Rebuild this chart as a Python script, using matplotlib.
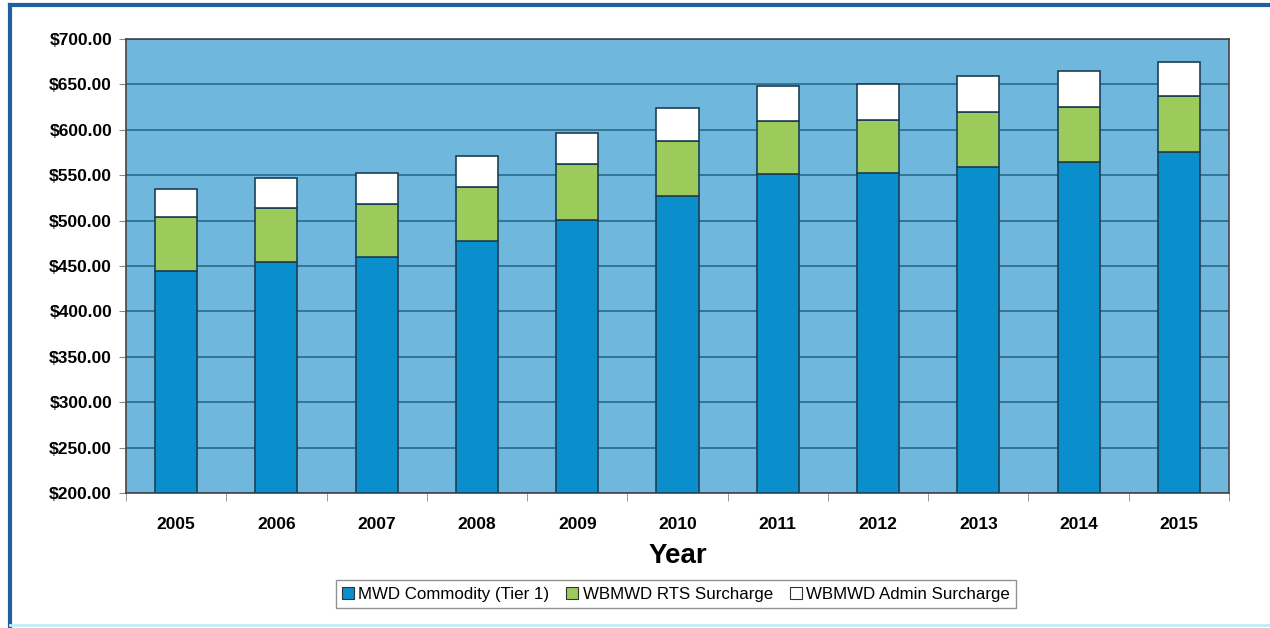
import matplotlib
matplotlib.use("Agg")
import matplotlib.pyplot as plt
from matplotlib.patches import Rectangle
from matplotlib.lines import Line2D
import numpy as np

plt.rcParams['font.family'] = ['Liberation Sans', 'DejaVu Sans']

years = ['2005', '2006', '2007', '2008', '2009', '2010',
         '2011', '2012', '2013', '2014', '2015']
# stacked totals ($ per acre-foot) at each layer boundary
mwd_commodity = [444, 454, 460, 477, 501, 527, 551, 552, 559, 565, 576]
rts_top = [504, 514, 518, 537, 562, 588, 610, 611, 620, 625, 637]
admin_top = [535, 547, 552, 571, 596, 624, 648, 650, 659, 665, 675]

rts_surcharge = [r - m for r, m in zip(rts_top, mwd_commodity)]
admin_surcharge = [a - r for a, r in zip(admin_top, rts_top)]

series_names = ['MWD Commodity (Tier 1)', 'WBMWD RTS Surcharge',
                'WBMWD Admin Surcharge']
colors = ['#0a8fcc', '#9ccb5c', '#ffffff']

fig = plt.figure(figsize=(12.7, 6.28), dpi=100)
ax = fig.add_axes([126 / 1270, 1 - 493 / 628, (1229 - 126) / 1270, (493 - 39) / 628])
ax.set_facecolor('#70b7de')

x = np.arange(len(years))
width = 0.42
base = 200
ax.bar(x, np.array(mwd_commodity) - base, width, bottom=base,
       color=colors[0], edgecolor='#1b3f55', linewidth=1.2, zorder=3)
ax.bar(x, rts_surcharge, width, bottom=mwd_commodity,
       color=colors[1], edgecolor='#1b3f55', linewidth=1.2, zorder=3)
ax.bar(x, admin_surcharge, width, bottom=rts_top,
       color=colors[2], edgecolor='#1b3f55', linewidth=1.2, zorder=3)

ax.set_ylim(200, 700)
ax.set_xlim(-0.5, len(years) - 0.5)
yt = np.arange(200, 701, 50)
ax.set_yticks(yt)
ax.set_yticklabels([f'${v:.2f}' for v in yt], fontsize=12.5, fontweight='bold')
ax.yaxis.grid(True, color='#2f6e8e', linewidth=1.3, zorder=1)
ax.set_axisbelow(True)

ax.set_xticks(x)
ax.set_xticklabels(years, fontsize=12.5, fontweight='bold')
ax.tick_params(axis='x', length=0, pad=17)
ax.set_xticks(np.arange(-0.5, len(years), 1), minor=True)
ax.tick_params(axis='x', which='minor', length=6, color='#888888', direction='out')
ax.tick_params(axis='y', length=5, color='#888888', direction='out', pad=5)

for side in ['top', 'right', 'left', 'bottom']:
    ax.spines[side].set_color('#444444')
    ax.spines[side].set_linewidth(1.2)

ax.set_xlabel('Year', fontsize=20, fontweight='bold', labelpad=8)

handles = [Rectangle((0, 0), 1, 1, facecolor=c, edgecolor='#333333', linewidth=0.8)
           for c in colors]
leg = fig.legend(handles, series_names, loc='center', ncol=3,
                 bbox_to_anchor=(676 / 1270, 1 - 594 / 628),
                 fontsize=12.2, frameon=True, fancybox=False, edgecolor='#777777',
                 handlelength=0.7, handleheight=0.7, handletextpad=0.25,
                 columnspacing=1.0, borderpad=0.4)
leg.get_frame().set_linewidth(1.0)

# outer frame lines
fig.add_artist(Line2D([10 / 1270, 10 / 1270], [0, 1 - 5 / 628],
                      transform=fig.transFigure, color='#1f5f9c', linewidth=3))
fig.add_artist(Line2D([10 / 1270, 1], [1 - 5 / 628, 1 - 5 / 628],
                      transform=fig.transFigure, color='#1f5f9c', linewidth=3))
fig.add_artist(Line2D([10 / 1270, 1], [3 / 628, 3 / 628],
                      transform=fig.transFigure, color='#bfeef5', linewidth=2))

fig.savefig('out.png', dpi=100)
